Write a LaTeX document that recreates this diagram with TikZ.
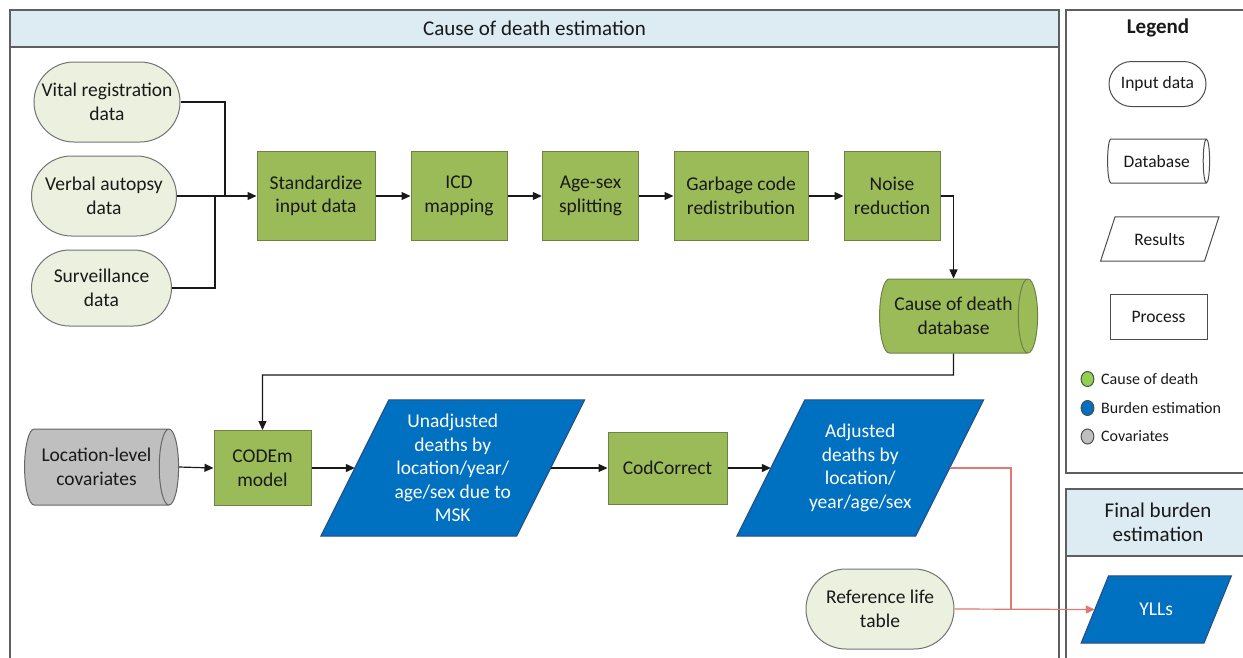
\documentclass[tikz,border=0pt]{standalone}
\usepackage{fontspec}
\setmainfont{Carlito}
\usetikzlibrary{shapes.geometric,shapes.misc,arrows.meta,backgrounds}
\definecolor{inputfill}{RGB}{235,241,222}
\definecolor{procfill}{RGB}{155,187,89}
\definecolor{procline}{RGB}{110,130,70}
\definecolor{bluefill}{RGB}{0,112,192}
\definecolor{blueline}{RGB}{40,75,130}
\definecolor{grayfill}{RGB}{191,191,191}
\definecolor{frameline}{RGB}{95,95,95}
\definecolor{headfill}{RGB}{221,235,243}
\definecolor{redline}{RGB}{222,122,112}
\definecolor{legreen}{RGB}{146,208,80}
\definecolor{txt}{RGB}{25,25,25}
\newcommand{\paraframe}[3]{% node, half slant, style
  \path[#3] ([xshift=#2]#1.north west) -- ([xshift=#2]#1.north east) -- ([xshift=-#2]#1.south east) -- ([xshift=-#2]#1.south west) -- cycle;}
\begin{document}
\begin{tikzpicture}[x=1pt,y=-1pt,
  every node/.style={font=\fontsize{19.5}{23.5}\selectfont, align=center, inner sep=0pt, text=txt},
  headtext/.style={font=\fontsize{21}{24}\selectfont},
  legtext/.style={font=\fontsize{17.5}{21}\selectfont},
  smalltext/.style={font=\fontsize{16}{19}\selectfont, anchor=west},
  frame/.style={draw=frameline, line width=1.8pt},
  inputbox/.style={rounded rectangle, draw=black!55, fill=inputfill, line width=1pt},
  procbox/.style={rectangle, draw=procline, fill=procfill, line width=1pt},
  resbox/.style={rectangle, text=white},
  resshape/.style={draw=blueline, fill=bluefill, line width=1pt},
  dbbox/.style={cylinder, aspect=0.52, draw=black!60, line width=1pt},
  legbox/.style={draw=black!70, fill=white, line width=1pt, legtext},
  legshape/.style={draw=black!70, fill=white, line width=1pt},
  conn/.style={draw=txt, line width=1.2pt},
  arr/.style={conn, -{Triangle[length=9pt,width=8pt]}},
  redconn/.style={draw=redline, line width=1.2pt},
  redarr/.style={redconn, -{Triangle[length=9pt,width=8pt]}},
  dot/.style={ellipse, draw=black!70, line width=1pt, minimum width=12.8pt, minimum height=15pt}
]
\useasboundingbox (0,0) rectangle (1243,657);
% ---- frames
\fill[headfill] (10,10) rectangle (1059,47);
\draw[frame] (10,670) -- (10,10) -- (1059,10) -- (1059,670);
\draw[frame] (10,47) -- (1059,47);
\node[headtext] (cdtitle) at (534.5,28) {Cause of death estimation};

\draw[frame] (1250,473) -- (1066,473) -- (1066,10) -- (1250,10);
\node[headtext, font=\fontsize{21}{24}\selectfont\bfseries] (legtitle) at (1158,28) {Legend};

\fill[headfill] (1066,489) rectangle (1250,556);
\draw[frame] (1066,670) -- (1066,489) -- (1250,489);
\draw[frame] (1066,556) -- (1250,556);
\node[headtext] (fbtitle) at (1158,522) {Final burden\\estimation};

% ---- input data
\node[inputbox, minimum width=146pt, minimum height=80pt] (vr) at (107,102) {Vital registration\\data};
\node[inputbox, minimum width=145pt, minimum height=80pt] (va) at (104,196) {Verbal autopsy\\data};
\node[inputbox, minimum width=140pt, minimum height=76pt] (sv) at (101.5,288) {Surveillance\\data};

% ---- processes row 1
\node[procbox, minimum width=118pt, minimum height=89pt] (std) at (316,196) {Standardize\\input data};
\node[procbox, minimum width=96pt, minimum height=89pt] (icd) at (459,196) {ICD\\mapping};
\node[procbox, minimum width=96.5pt, minimum height=89pt] (age) at (590.5,196) {Age-sex\\splitting};
\node[procbox, minimum width=134pt, minimum height=89pt] (garb) at (741,196) {Garbage code\\redistribution};
\node[procbox, minimum width=96pt, minimum height=89pt] (noise) at (892,196) {Noise\\reduction};

\node[dbbox, fill=procfill, draw=procline, minimum width=74pt, minimum height=158pt] (db) at (953.5,316) {Cause of death\\database};

% ---- row 2
\node[dbbox, fill=grayfill, minimum width=76pt, minimum height=154pt] (loc) at (96.5,467) {Location-level\\covariates};
\node[procbox, minimum width=97pt, minimum height=75pt] (codem) at (262.5,468) {CODEm\\model};
\node[resbox, minimum width=195.5pt, minimum height=136pt] (unadj) at (452.75,468) {Unadjusted\\deaths by\\location/year/\\age/sex due to\\MSK};
\node[procbox, minimum width=119pt, minimum height=72pt] (codc) at (667.5,468) {CodCorrect};
\node[resbox, minimum width=178.5pt, minimum height=136pt] (adj) at (860.25,468) {Adjusted\\deaths by\\location/\\year/age/sex};
\node[inputbox, minimum width=148pt, minimum height=80pt] (ref) at (880,609) {Reference life\\table};
\node[resbox, minimum width=122.5pt, minimum height=67pt] (ylls) at (1156.25,609.5) {YLLs};

% ---- legend
\node[legbox, rounded rectangle, minimum width=97pt, minimum height=45pt] (lin) at (1157.5,84) {Input data};
\node[legbox, cylinder, aspect=0.52, minimum width=44pt, minimum height=102pt] (ldb) at (1156.75,161) {Database};
\node[legtext, rectangle, minimum width=103.5pt, minimum height=44pt] (lres) at (1159.75,239) {Results};
\node[legbox, rectangle, minimum width=97pt, minimum height=45pt] (lproc) at (1158.5,316.5) {Process};

\node[dot, fill=legreen] (dg) at (1087.5,379) {};
\node[dot, fill=bluefill] (dbl) at (1087.5,408) {};
\node[dot, fill=grayfill] (dgr) at (1087.5,436.5) {};
\node[smalltext] (tg) at (1101,379) {Cause of death};
\node[smalltext] (tbl) at (1101,408) {Burden estimation};
\node[smalltext] (tgr) at (1101,436.5) {Covariates};

% ---- parallelogram outlines behind their texts
\begin{scope}[on background layer]
  \paraframe{unadj}{34pt}{resshape}
  \paraframe{adj}{34pt}{resshape}
  \paraframe{ylls}{13.75pt}{resshape}
  \paraframe{lres}{7.25pt}{legshape}
\end{scope}

% ---- connectors
\coordinate (j1) at (225,196);
\coordinate (j2) at (215,196);
\draw[conn] (vr.east) -| (j1);
\draw[conn] (sv.east) -| (j2);
\draw[arr] (va.east) -- (std.west);
\draw[arr] (std.east) -- (icd.west);
\draw[arr] (icd.east) -- (age.west);
\draw[arr] (age.east) -- (garb.west);
\draw[arr] (garb.east) -- (noise.west);
\draw[arr] (noise.east) -| (db.north);
\coordinate (j3) at (953.5,375);
\draw[arr] (db.south) -- (j3) -| (codem.north);
\draw[arr] (loc.east) -- (codem.west);
\draw[arr] (codem.east) -- (unadj.west);
\draw[arr] (unadj.east) -- (codc.west);
\draw[arr] (codc.east) -- (adj.west);
\coordinate (rj) at (1011,609);
\draw[redconn] (adj.east) -| (rj);
\draw[redarr] (ref.east) -- (ylls.west);
\end{tikzpicture}
\end{document}
